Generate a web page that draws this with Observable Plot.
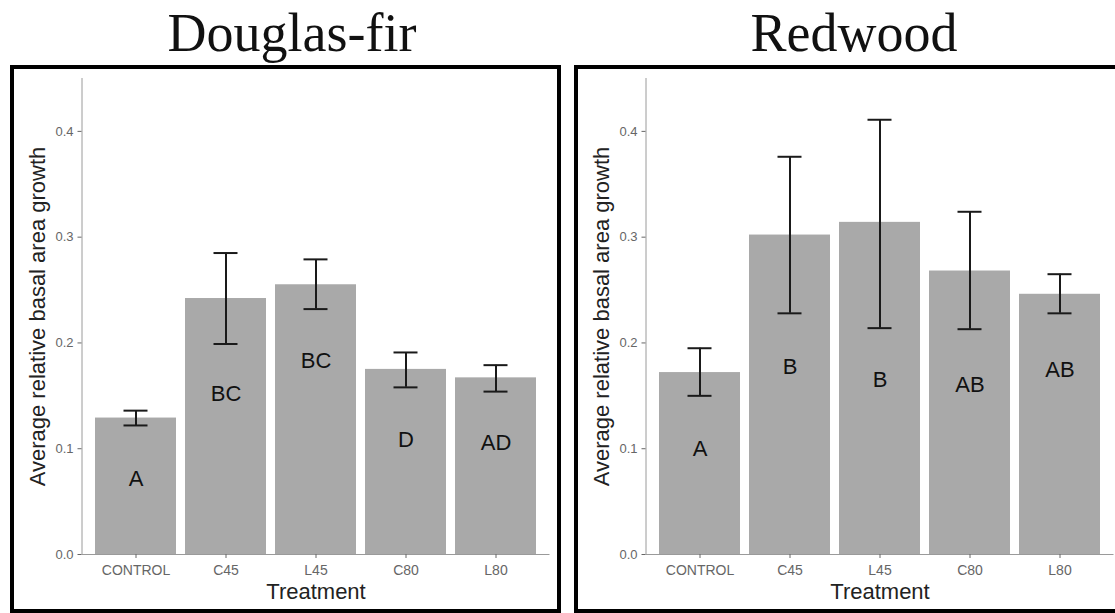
<!DOCTYPE html>
<html>
<head>
<meta charset="utf-8">
<script src="https://cdn.jsdelivr.net/npm/d3@7"></script>
<script src="https://cdn.jsdelivr.net/npm/@observablehq/plot@0.6"></script>
<style>
  html, body { margin: 0; padding: 0; background: #fff; }
  #page { position: relative; width: 1115px; height: 613px; overflow: hidden; background: #fff; }
  .title { position: absolute; top: 6px; font-family: "Liberation Serif", "Times New Roman", serif;
           font-size: 54px; line-height: 54px; text-align: center; color: #111; white-space: nowrap; }
  .panel { position: absolute; top: 65px; width: 543px; height: 540px; border: 4px solid #000; background: #fff; }
  .panel svg { display: block; }
</style>
</head>
<body>
<div id="page">
  <div class="title" style="left:0px;width:584px;">Douglas-fir</div>
  <div class="title" style="left:554px;width:600px;">Redwood</div>
  <div class="panel" id="p1" style="left:10px;"></div>
  <div class="panel" id="p2" style="left:574px;"></div>
</div>
<script>
// ---- data ----
const treatments = ["CONTROL", "C45", "L45", "C80", "L80"];

const dfMean    = [0.129, 0.242, 0.255, 0.175, 0.167];
const dfLow     = [0.122, 0.199, 0.232, 0.158, 0.154];
const dfHigh    = [0.136, 0.285, 0.279, 0.191, 0.179];
const dfLetters = ["A", "BC", "BC", "D", "AD"];
const dfLetterY = [0.071, 0.152, 0.183, 0.108, 0.105];

const rwMean    = [0.172, 0.302, 0.314, 0.268, 0.246];
const rwLow     = [0.150, 0.228, 0.214, 0.213, 0.228];
const rwHigh    = [0.195, 0.376, 0.411, 0.324, 0.265];
const rwLetters = ["A", "B", "B", "AB", "AB"];
const rwLetterY = [0.100, 0.177, 0.165, 0.160, 0.174];

const yTicks = [0, 0.1, 0.2, 0.3, 0.4];
const yDomain = [0, 0.45];
const yTitle = "Average relative basal area growth";
const xTitle = "Treatment";

// ---- chart ----
const W = 543, H = 540, ML = 67.5, MR = 7.5, MT = 9, MB = 55;

function panel(mean, low, high, letters, letterY) {
  const rows = treatments.map((t, i) => ({
    treatment: t, mean: mean[i], low: low[i], high: high[i], letter: letters[i], ly: letterY[i]
  }));
  return Plot.plot({
    width: W, height: H,
    marginLeft: ML, marginRight: MR, marginTop: MT, marginBottom: MB,
    style: { fontFamily: "'Liberation Sans', Arial, sans-serif", background: "#fff", overflow: "visible" },
    x: { domain: treatments, paddingInner: 0.1, paddingOuter: 0.15, label: null },
    y: { domain: yDomain, label: null },
    marks: [
      Plot.barY(rows, { x: "treatment", y: "mean", fill: "#a9a9a9" }),
      Plot.ruleY([0], { stroke: "#9a9a9a", strokeWidth: 1 }),
      Plot.ruleX([0], { x: null, dx: -(W - ML - MR) / 2, stroke: "#9a9a9a", strokeWidth: 1 }),
      Plot.ruleX(rows, { x: "treatment", y1: "low", y2: "high", stroke: "#1a1a1a", strokeWidth: 2 }),
      Plot.tickY(rows, { x: "treatment", y: "low", stroke: "#1a1a1a", strokeWidth: 2, inset: 28.5 }),
      Plot.tickY(rows, { x: "treatment", y: "high", stroke: "#1a1a1a", strokeWidth: 2, inset: 28.5 }),
      Plot.text(rows, { x: "treatment", y: "ly", text: "letter", fontSize: 22, fill: "#111", lineAnchor: "middle" }),
      Plot.axisY({ ticks: yTicks, tickFormat: d3.format(".1f"), tickSize: 4, tickPadding: 4.5,
                   fontSize: 13, color: "#666", label: null }),
      Plot.axisX({ tickSize: 4, tickPadding: 7, fontSize: 14, color: "#666", label: null }),
      Plot.text([yTitle], { frameAnchor: "left", rotate: -90, textAnchor: "middle", lineAnchor: "bottom",
                            dx: -37.5, fontSize: 22, fill: "#222" }),
      Plot.text([xTitle], { frameAnchor: "bottom", textAnchor: "middle", lineAnchor: "bottom", dy: 44,
                            fontSize: 22, fill: "#222" })
    ]
  });
}

document.getElementById("p1").appendChild(panel(dfMean, dfLow, dfHigh, dfLetters, dfLetterY));
document.getElementById("p2").appendChild(panel(rwMean, rwLow, rwHigh, rwLetters, rwLetterY));
</script>
</body>
</html>
